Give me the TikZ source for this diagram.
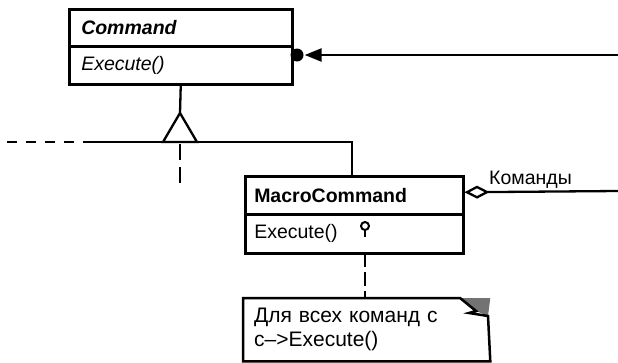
\documentclass[tikz,border=0pt]{standalone}
\usepackage{fontspec}
\setmainfont{Liberation Sans}
\usetikzlibrary{arrows.meta}
\begin{document}
\begin{tikzpicture}[x=1pt,y=-1pt,line width=2.3pt,font=\fontsize{19.5}{23}\selectfont,
  part/.style={draw,line width=2.5pt,anchor=north west,inner ysep=0pt,align=left},
  cpart/.style={part,minimum width=223pt,text width=199pt,inner xsep=12pt},
  mpart/.style={part,minimum width=218pt,text width=200pt,inner xsep=9pt},
  ]
\useasboundingbox (0,0) rectangle (618,362);
% Command class
\node[cpart,minimum height=37pt] (cmdT) at (68,8) {\bfseries\itshape Command};
\node[cpart,minimum height=38pt] (cmdO) at (68,45) {\itshape Execute()};
% MacroCommand class
\node[mpart,minimum height=38pt] (mcT) at (244,175) {\bfseries MacroCommand};
\node[mpart,minimum height=39pt] (mcO) at (244,213) {Execute()};
% note
\node[anchor=north west,minimum width=245pt,minimum height=61pt,inner xsep=10pt,inner ysep=0pt,
      text width=225pt,align=left,font=\fontsize{21}{24}\selectfont] (note) at (243,298)
      {Для всех команд с\\c–>Execute()};
\fill[black!55] (460,298) -- (note.north east) -- (488,316) -- (476,311) -- cycle;
\draw[line width=2.5pt,line join=miter] (note.north west) -- (460,298) -- (476,311) -- (469,313) -- (488,316)
      -- (note.south east) -- (note.south west) -- cycle;
% association with dot
\node[circle,fill,minimum size=13pt,inner sep=0pt] (dot) at (297,55) {};
\coordinate (rin1) at (618,55);
\draw[-{Triangle[length=17pt,width=13pt]}] (rin1) -- (dot.east);
% generalization
\coordinate (genapex) at (180,113);
\coordinate (genbase) at (180,142);
\coordinate (leftsolid) at (86,142);
\coordinate (leftend) at (7,142);
\coordinate (dashend) at (180,190);
\draw (cmdO.south) -- (genapex);
\draw[line join=miter] (genapex) -- (163,142) -- (197,142) -- cycle;
\draw (leftsolid) -- (genbase) -| ([xshift=-2pt]mcT.north);
\draw[dash pattern=on 10pt off 9pt] (leftend) -- (leftsolid);
\draw[dash pattern=on 16pt off 7pt] ([yshift=-2pt]genbase) -- (dashend);
% aggregation
\coordinate (rin2) at (618,191);
\draw[{Diamond[open,length=25pt,width=13pt]}-] ([yshift=3pt]mcT.east) -- (rin2);
\node[anchor=base west,inner sep=0pt] (lbl) at (488,184) {Команды};
% note anchor
\node[circle,draw,line width=2pt,minimum size=8pt,inner sep=0pt] (pin) at (365,226) {};
\coordinate (pinend) at (365,237);
\draw[line width=2pt] (pin.south) -- (pinend);
\draw[dash pattern=on 14pt off 5pt] (365,253) -- (note.north -| 365,0);
\end{tikzpicture}
\end{document}
